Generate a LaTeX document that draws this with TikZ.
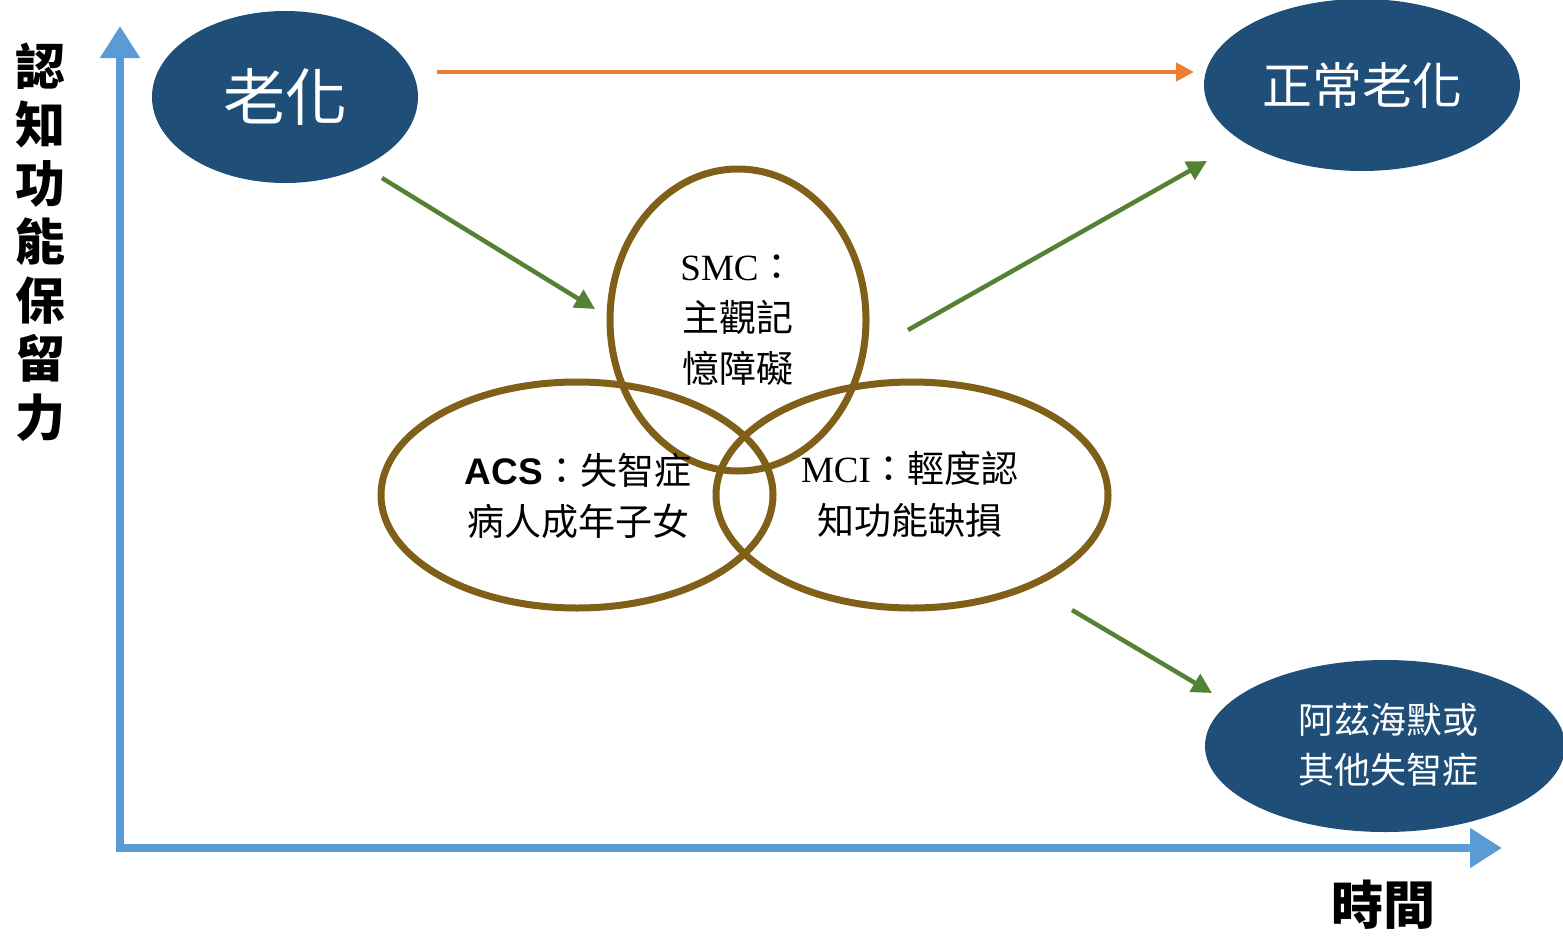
\documentclass[tikz,border=0pt]{standalone}
\usepackage{fontspec}
\setmainfont{Liberation Serif}
\newfontfamily\cjk{Noto Sans CJK TC}
\newfontfamily\lsans{Liberation Sans}
\usetikzlibrary{arrows.meta,shapes.geometric}
\definecolor{axisblue}{HTML}{5B9BD5}
\definecolor{darkblue}{HTML}{1F4E79}
\definecolor{arrorange}{HTML}{ED7D31}
\definecolor{arrgreen}{HTML}{548235}
\definecolor{ringbrown}{HTML}{806018}
\tikzset{
  axisline/.style={draw=axisblue,line width=8pt,-{Triangle[length=32pt,width=38pt]}},
  bluenode/.style={ellipse,fill=darkblue,text=white,inner sep=0pt},
  ring/.style={ellipse,draw=ringbrown,line width=7pt,inner sep=0pt},
  greenarrow/.style={draw=arrgreen,line width=4.5pt,-{Triangle[length=20pt,width=20pt]}},
  orangearrow/.style={draw=arrorange,line width=4.5pt,-{Triangle[length=18pt,width=18pt]}},
  lbl/.style={inner sep=0pt,align=center}
}
\begin{document}
\begin{tikzpicture}[x=1pt,y=-1pt]
\useasboundingbox (0,0) rectangle (1563,935);
% axes
\draw[axisline] (120,852) -- (120,26) coordinate (ytip);
\draw[axisline] (116,848) -- (1502,848) coordinate (xtip);
\node[lbl,font={\fontsize{50}{58.5}\selectfont\cjk\bfseries}] (ylabel) at (40,242) {認\\知\\功\\能\\保\\留\\力};
\node[lbl,font={\fontsize{52}{60}\selectfont\cjk\bfseries}] (xlabel) at (1383,905) {時間};
% blue ellipses
\node[bluenode,minimum width=266pt,minimum height=172pt,font={\fontsize{62}{70}\selectfont\cjk}] (aging) at (285,97) {老化};
\node[bluenode,minimum width=316pt,minimum height=172pt,font={\fontsize{50}{60}\selectfont\cjk}] (normal) at (1362,85) {正常老化};
\node[bluenode,minimum width=360pt,minimum height=172pt] (ad) at (1385,746) {};
\node[lbl,text=white,font={\fontsize{36}{50}\selectfont\cjk}] (adtext) at (1388,745) {阿茲海默或\\其他失智症};
% rings
\node[ring,minimum width=392pt,minimum height=226pt] (acs) at (577,495) {};
\node[ring,minimum width=392pt,minimum height=226pt] (mci) at (912,495) {};
\node[ring,minimum width=256pt,minimum height=302pt] (smc) at (738,320) {};
% ring texts
\node[lbl,font={\fontsize{37}{51}\selectfont\cjk}] (smctext) at (738,320)
  {{\rmfamily SMC}：\\主觀記\\憶障礙};
\node[lbl,font={\fontsize{37}{51}\selectfont\cjk}] (acstext) at (578,496)
  {{\lsans\bfseries ACS}：失智症\\病人成年子女};
\node[lbl,font={\fontsize{37}{52}\selectfont\cjk}] (mcitext) at (910,494)
  {{\rmfamily MCI}：輕度認\\知功能缺損};
% arrows
\coordinate (o1) at (437,72);
\coordinate (o2) at (1194,72);
\draw[orangearrow] (o1) -- (o2);
\coordinate (g1a) at (382,178);
\coordinate (g1b) at (595,309);
\draw[greenarrow] (g1a) -- (g1b);
\coordinate (g2a) at (908,330);
\coordinate (g2b) at (1207,161);
\draw[greenarrow] (g2a) -- (g2b);
\coordinate (g3a) at (1072,610);
\coordinate (g3b) at (1212,693);
\draw[greenarrow] (g3a) -- (g3b);
\end{tikzpicture}
\end{document}
